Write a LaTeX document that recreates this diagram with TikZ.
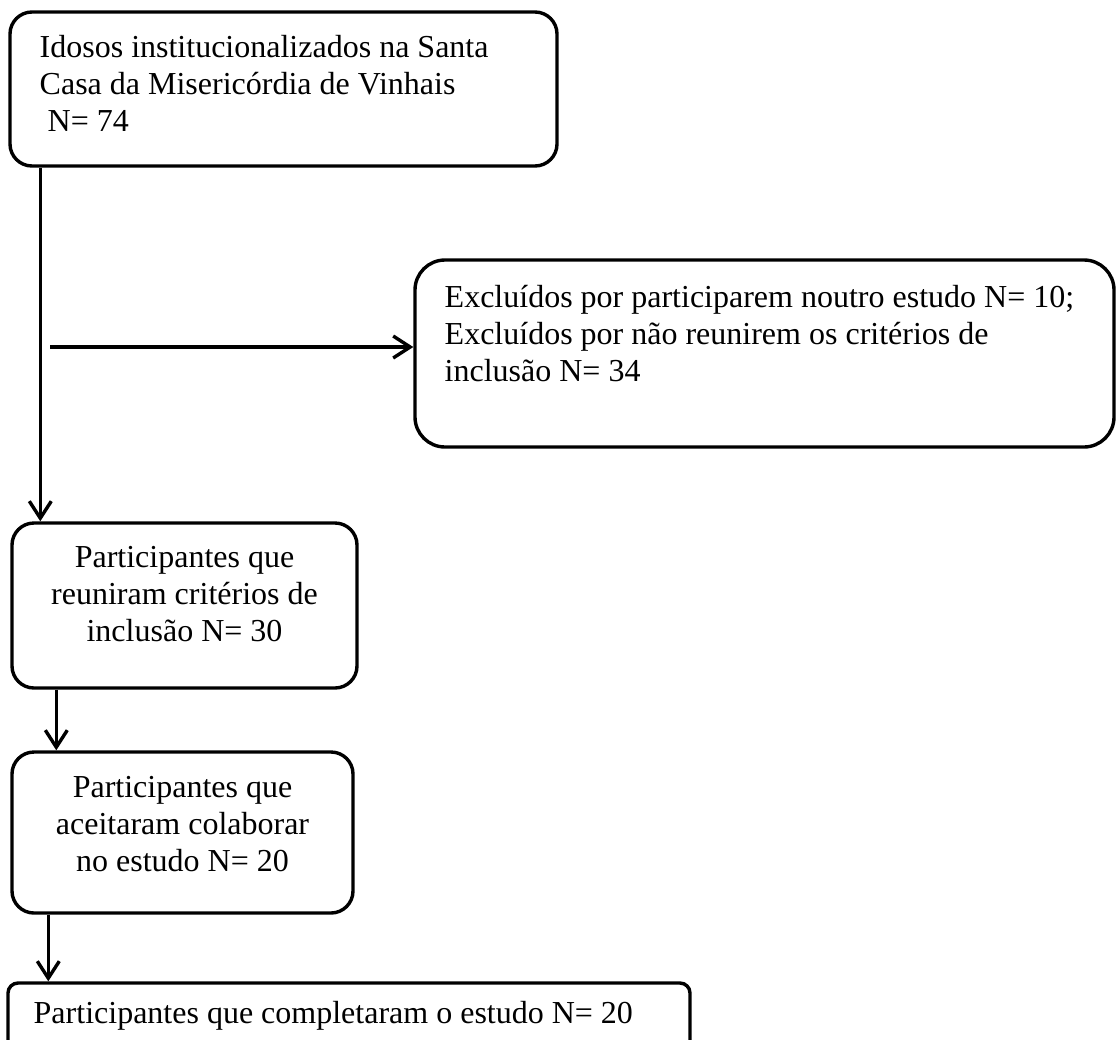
\documentclass[tikz,border=0pt]{standalone}
\usepackage{fontspec}
\setmainfont{Liberation Serif}
\usetikzlibrary{arrows.meta}
\begin{document}
\begin{tikzpicture}[x=0.5pt,y=-0.5pt,
  box/.style={draw, line width=1.7pt, inner sep=0pt, rectangle, rounded corners=11pt},
  txt/.style={inner sep=0pt, font=\fontsize{16}{18.5}\selectfont},
  arr/.style={line width=1.7pt, -{Straight Barb[length=8.5pt,width=11pt]}}]
\useasboundingbox (0,0) rectangle (1117,1039);
\clip (0,0) rectangle (1117,1039);
% boxes
\node[box, minimum width=273.5pt, minimum height=77pt] (box1) at (283.5,89) {};
\node[box, rounded corners=15pt, minimum width=349.5pt, minimum height=93.5pt] (box3) at (764.5,353.5) {};
\node[box, minimum width=172.5pt, minimum height=82.5pt] (box2) at (184.5,605.5) {};
\node[box, minimum width=170.5pt, minimum height=80.5pt] (box4) at (182.5,832.5) {};
\node[box, rounded corners=5pt, minimum width=341pt, minimum height=43.5pt] (box5) at (349,1026.5) {};
% texts (base anchor = baseline of the last line)
\node[txt, align=left, anchor=base west] (t1) at ([xshift=15.5pt,yshift=-60.5pt]box1.north west)
  {Idosos institucionalizados na Santa\\Casa da Misericórdia de Vinhais\\\hspace*{0.25em}N= 74};
\node[txt, align=left, anchor=base west] (t3) at ([xshift=15.5pt,yshift=-61.5pt]box3.north west)
  {Excluídos por participarem noutro estudo N= 10;\\Excluídos por não reunirem os critérios de\\inclusão N= 34};
\node[txt, align=center, anchor=base] (t2) at ([yshift=-60pt]box2.north)
  {Participantes que\\reuniram critérios de\\inclusão N= 30};
\node[txt, align=center, anchor=base] (t4) at ([yshift=-60.5pt]box4.north)
  {Participantes que\\aceitaram colaborar\\no estudo N= 20};
\node[txt, anchor=base west] (t5) at ([xshift=13.5pt,yshift=-21pt]box5.north west)
  {Participantes que completaram o estudo N= 20};
% connectors
\coordinate (a1) at ([xshift=16pt]box1.south west);
\draw[arr] (a1) -- (a1 |- box2.north);
\coordinate (h0) at (50,347);
\draw[arr] (h0) -- (h0 -| box3.west);
\coordinate (a3) at ([xshift=23pt]box2.south west);
\draw[arr] (a3) -- (a3 |- box4.north);
\coordinate (a4) at ([xshift=19pt]box4.south west);
\draw[arr] (a4) -- (a4 |- box5.north);
\end{tikzpicture}
\end{document}
